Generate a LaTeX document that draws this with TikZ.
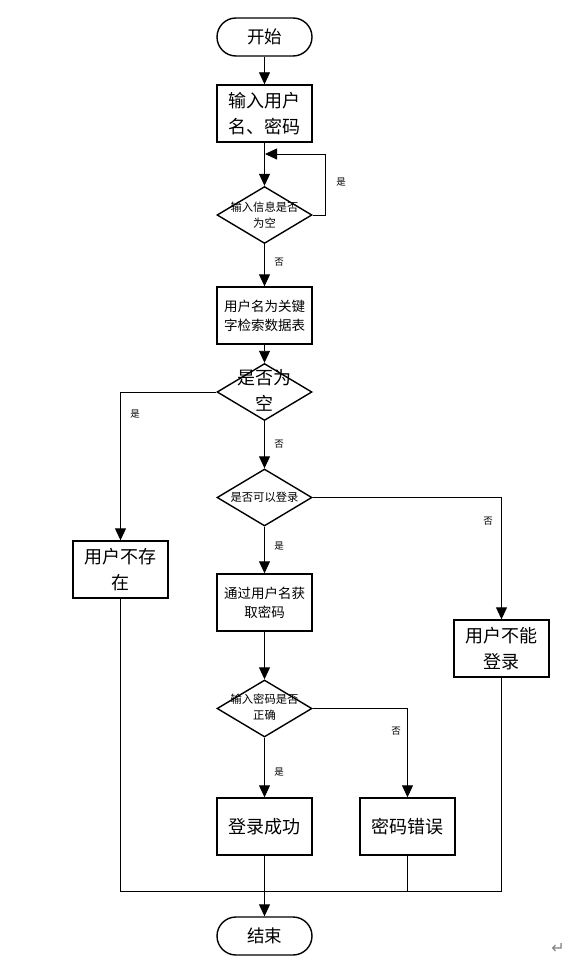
\documentclass[tikz,border=0pt]{standalone}
\usepackage{fontspec}
\setmainfont{Noto Sans CJK SC}
\newfontfamily\symfont{DejaVu Sans}
\usetikzlibrary{arrows.meta,shapes.geometric}
\tikzset{
  base/.style={draw=black,line width=1.4pt,inner sep=0pt,align=center,minimum width=95pt},
  term/.style={base,rounded corners=19pt,minimum height=38pt,font=\fontsize{17.5}{24}\selectfont},
  procbig/.style={base,minimum height=57pt,font=\fontsize{18}{26}\selectfont},
  procmid/.style={base,minimum height=57pt,font=\fontsize{13.5}{19}\selectfont},
  decis/.style={diamond,draw=black,line width=1.4pt,inner sep=0pt,minimum width=95pt,minimum height=57pt},
  dtxtsmall/.style={align=center,inner sep=0pt,font=\fontsize{11.3}{16}\selectfont},
  dtxtbig/.style={align=center,inner sep=0pt,font=\fontsize{18}{26}\selectfont},
  lbl/.style={inner sep=0pt,font=\fontsize{9.5}{11}\selectfont},
  conn/.style={draw=black,line width=0.9pt},
  arr/.style={conn,-{Triangle[width=11pt,length=12pt]}},
}
\begin{document}
\begin{tikzpicture}[x=1pt,y=-1pt]
\useasboundingbox (0,0) rectangle (579,963);
\fill[white] (0,0) rectangle (579,963);

\node[term] (start) at (264.5,37) {开始};
\node[procbig] (input) at (264.5,113.5) {输入用户\\名、密码};
\node[decis] (d1) at (264.5,215) {};
\node[dtxtsmall] (d1t) at (264.5,215) {输入信息是否\\为空};
\node[procmid] (search) at (264.5,315.5) {用户名为关键\\字检索数据表};
\node[decis] (d2) at (264.5,392) {};
\node[dtxtbig] (d2t) at (264.5,390) {是否为\\空};
\node[decis] (d3) at (264.5,497.5) {};
\node[dtxtsmall] (d3t) at (264.5,497.5) {是否可以登录};
\node[procmid] (getpw) at (264.5,602.5) {通过用户名获\\取密码};
\node[decis] (d4) at (264.5,708.5) {};
\node[dtxtsmall] (d4t) at (264.5,707.5) {输入密码是否\\正确};
\node[procbig] (ok) at (264.5,826.5) {登录成功};
\node[procbig] (wrong) at (407.5,826.5) {密码错误};
\node[procbig] (noexist) at (120.5,569.5) {用户不存\\在};
\node[procbig] (cannot) at (501.5,648.5) {用户不能\\登录};
\node[term] (end) at (264.5,936) {结束};

\coordinate (loopR) at (325,154);
\coordinate (loopL) at (265,154);
\coordinate (bot) at (0,891);

\draw[arr] (start) -- (input);
\draw[arr] (input) -- (d1);
\draw[arr] (d1.east) -- (d1.east -| loopR) -- (loopR) -- (loopL);
\draw[arr] (d1) -- (search);
\draw[arr] (search) -- (d2);
\draw[arr] (d2.west) -| (noexist.north);
\draw[arr] (d2) -- (d3);
\draw[arr] (d3.east) -| (cannot.north);
\draw[arr] (d3) -- (getpw);
\draw[arr] (getpw) -- (d4);
\draw[arr] (d4) -- (ok);
\draw[arr] (d4.east) -| (wrong.north);
\draw[arr] (ok) -- (end);
\draw[conn] (noexist.south) -- (noexist.south |- bot) -- (cannot.south |- bot) -- (cannot.south);
\draw[conn] (wrong.south) -- (wrong.south |- bot);

\node[lbl] (l1) at (341,182) {是};
\node[lbl] (l2) at (279,262) {否};
\node[lbl] (l3) at (135,414) {是};
\node[lbl] (l4) at (279,444) {否};
\node[lbl] (l5) at (488,521) {否};
\node[lbl] (l6) at (279,546) {是};
\node[lbl] (l7) at (396,731) {否};
\node[lbl] (l8) at (279,772) {是};

\node[inner sep=0pt,text=gray,font=\symfont\fontsize{16}{16}\selectfont] (ret) at (558,948) {↵};
\end{tikzpicture}
\end{document}
